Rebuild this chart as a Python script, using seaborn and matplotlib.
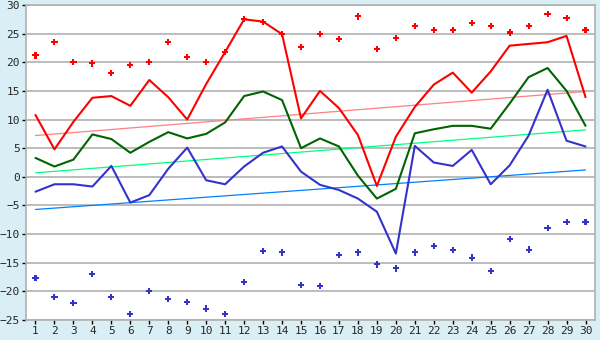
import matplotlib
matplotlib.use("Agg")
import matplotlib.pyplot as plt
import pandas as pd
import seaborn as sns

days = list(range(1, 31))

red_line = [10.8, 4.8, 9.6, 13.8, 14.1, 12.4, 16.9, 13.9, 10.0, 16.2,
            21.8, 27.5, 27.1, 24.9, 10.2, 15.0, 12.0, 7.3, -1.6, 7.0,
            12.2, 16.1, 18.2, 14.7, 18.4, 22.9, 23.2, 23.5, 24.6, 13.9]
green_line = [3.3, 1.8, 3.0, 7.4, 6.6, 4.2, 6.1, 7.8, 6.7, 7.5,
              9.5, 14.1, 14.9, 13.4, 5.0, 6.7, 5.3, 0.2, -3.8, -2.1,
              7.6, 8.3, 8.9, 8.9, 8.4, 12.8, 17.4, 19.0, 15.0, 8.9]
blue_line = [-2.6, -1.3, -1.3, -1.7, 1.9, -4.5, -3.2, 1.4, 5.1, -0.6,
             -1.3, 1.8, 4.2, 5.3, 0.9, -1.4, -2.3, -3.8, -6.1, -13.4,
             5.4, 2.5, 1.9, 4.7, -1.3, 2.0, 7.2, 15.2, 6.3, 5.3]
red_points = [21.2, 23.5, 20.1, 19.8, 18.1, 19.5, 20.0, 23.5, 20.9, 20.0,
              21.8, 27.5, 27.1, 24.9, 22.6, 25.0, 24.0, 28.0, 22.3, 24.2,
              26.3, 25.6, 25.7, 26.8, 26.4, 25.2, 26.3, 28.4, 27.7, 25.7]
blue_points = [-17.7, -21.0, -22.1, -17.0, -21.0, -24.0, -20.0, -21.4, -21.9, -23.0,
               -24.0, -18.4, -13.0, -13.2, -18.9, -19.1, -13.7, -13.2, -15.3, -16.0,
               -13.2, -12.1, -12.8, -14.1, -16.5, -10.9, -12.7, -9.0, -7.9, -7.9]

# trend lines: value at first and last day
trend_days = [1, 30]
red_trend = [7.2, 14.9]
green_trend = [0.7, 8.2]
blue_trend = [-5.7, 1.2]

y_ticks = list(range(-25, 31, 5))

sns.set_style("white")
plt.rcParams["font.family"] = ["DejaVu Sans Mono", "DejaVu Sans"]

bg = "#d9eff5"
fig = plt.figure(figsize=(6, 3.4), dpi=100, facecolor=bg)
ax = fig.add_axes([26 / 600, 1 - 320 / 340, 569 / 600, 315 / 340])
ax.set_facecolor("white")

trends = pd.DataFrame({
    "day": trend_days * 3,
    "value": red_trend + green_trend + blue_trend,
    "series": ["red"] * 2 + ["green"] * 2 + ["blue"] * 2,
})
sns.lineplot(data=trends, x="day", y="value", hue="series",
             palette={"red": "#ff8080", "green": "#00ff80", "blue": "#0080ff"},
             linewidth=0.9, legend=False, ax=ax, zorder=2)

lines = pd.DataFrame({
    "day": days * 3,
    "value": red_line + green_line + blue_line,
    "series": ["red"] * 30 + ["green"] * 30 + ["blue"] * 30,
})
sns.lineplot(data=lines, x="day", y="value", hue="series",
             palette={"red": "#ff0000", "green": "#006400", "blue": "#3333cc"},
             linewidth=1.5, legend=False, ax=ax, zorder=3)

points = pd.DataFrame({
    "day": days * 2,
    "value": red_points + blue_points,
    "series": ["red"] * 30 + ["blue"] * 30,
})
sns.scatterplot(data=points, x="day", y="value", hue="series",
                palette={"red": "#ff0000", "blue": "#3333cc"},
                marker="P", s=20, linewidth=0, legend=False, ax=ax, zorder=4)

ax.set_xlim(0.5, 30.5)
ax.set_ylim(-25, 30)
ax.set_xticks(days)
ax.set_yticks(y_ticks)
ax.set_xlabel("")
ax.set_ylabel("")
ax.yaxis.grid(True, color="#b0b0b0", linewidth=1.2)
ax.set_axisbelow(True)
for side in ["top", "right", "bottom", "left"]:
    ax.spines[side].set_color("#b0b0b0")
    ax.spines[side].set_linewidth(1.2)
ax.tick_params(axis="both", direction="out", length=3, width=1,
               color="black", labelsize=8, pad=1.5, left=True, bottom=True)

fig.savefig("out.png", dpi=100, facecolor=bg)
